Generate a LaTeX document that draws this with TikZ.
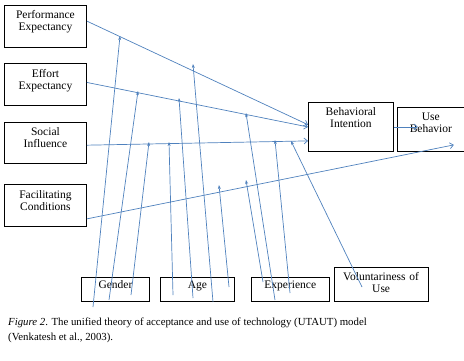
\documentclass[tikz,border=0pt]{standalone}
\usepackage{fontspec}
\setmainfont{Liberation Serif}
\usepackage{xcolor}
\usetikzlibrary{arrows.meta, positioning}
\definecolor{linkblue}{RGB}{79,129,189}

\begin{document}
\begin{tikzpicture}[x=1pt, y=-1pt,
    box/.style={draw, line width=0.9pt, inner sep=0pt, align=center,
      font=\fontsize{11.5pt}{12pt}\selectfont},
    cbox/.style={box, text width=82pt, text height=13.5pt, text depth=28pt},
    mbox/.style={box, text height=11pt, text depth=13pt},
    main/.style={linkblue, line width=0.7pt, -{Straight Barb[length=3.5pt,width=6pt]}},
    mod/.style={linkblue, line width=0.7pt, -{Stealth[length=4pt,width=3pt]}}]
  \useasboundingbox (0,0) rectangle (464,360);

  % constructs
  \node[cbox, anchor=north west] (pe) at (4,5) {Performance\\Expectancy};
  \node[cbox] (ee) [below=16pt of pe] {Effort\\Expectancy};
  \node[cbox] (si) [below=16pt of ee] {Social\\Influence};
  \node[cbox] (fc) [below=20pt of si] {Facilitating\\Conditions};

  \node[box, anchor=north west, text width=85pt, text height=13.5pt, text depth=35.5pt]
    (bi) at (308,102) {Behavioral\\Intention};
  \node[box, anchor=south west, text width=67pt, text height=13pt, text depth=31pt]
    (ub) at ([xshift=3pt]bi.south east) {Use\\Behavior};

  % moderators
  \node[mbox, anchor=north west, text width=68pt] (gender) at (81,277) {Gender};
  \node[mbox, text width=74pt] (age) [right=10pt of gender] {Age};
  \node[mbox, text width=78pt] (exp) [right=16pt of age] {Experience};
  \node[box, anchor=south west, text width=94pt, text height=13.5pt, text depth=20.5pt]
    (vol) at ([xshift=4pt]exp.south east) {Voluntariness of\\Use};

  \node[anchor=base west, align=left, inner sep=0pt,
    font=\fontsize{10.8pt}{15pt}\selectfont] (fig) at (8,340)
    {\textit{Figure 2}. The unified theory of acceptance and use of technology (UTAUT) model\\
     (Venkatesh et al., 2003).};

  % main paths
  \draw[main] (pe.7) -- (bi.177);
  \draw[main] (ee.3) -- (bi.west);
  \draw[main] (si.-3) -- (bi.198);
  \draw[main] (fc.-18) -- ([xshift=-11pt,yshift=7pt]ub.south east);
  \draw[main] (bi.east) -- ([xshift=21pt]bi.east -| ub.west);

  % moderator lines: tail and head points
  \coordinate (g1) at (93,307);  \coordinate (gpe) at (120,36);
  \coordinate (g2) at (109,300); \coordinate (gee) at (138,91);
  \coordinate (g3) at (131,295); \coordinate (gsi) at (149,142);
  \coordinate (a1) at (213,302); \coordinate (ape) at (193,64);
  \coordinate (a2) at (193,298); \coordinate (aee) at (179,98);
  \coordinate (a3) at (173,295); \coordinate (asi) at (169,142);
  \coordinate (a4) at (229,287); \coordinate (afc) at (219,185);
  \coordinate (e1) at (275,300); \coordinate (eee) at (246,113);
  \coordinate (e2) at (290,293); \coordinate (esi) at (275,140);
  \coordinate (e3) at (263,282); \coordinate (efc) at (246,180);
  \coordinate (v1) at (362,287); \coordinate (vsi) at (291,141);

  \foreach \t/\h in {g1/gpe, g2/gee, g3/gsi, a1/ape, a2/aee, a3/asi, a4/afc,
                     e1/eee, e2/esi, e3/efc, v1/vsi}
    \draw[mod] (\t) -- (\h);

\end{tikzpicture}
\end{document}
